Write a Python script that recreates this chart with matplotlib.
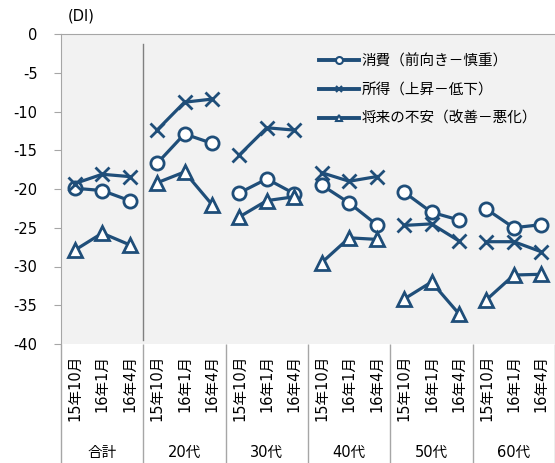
import matplotlib
matplotlib.use('Agg')
import matplotlib.pyplot as plt
from matplotlib.lines import Line2D
import numpy as np

plt.rcParams['font.family'] = ['DejaVu Sans', 'Noto Sans CJK JP']
plt.rcParams['axes.unicode_minus'] = False

# Survey rounds and age groups
rounds = ['15年10月', '16年1月', '16年4月']
groups = ['合計', '20代', '30代', '40代', '50代', '60代']

# DI values per group, one row per group (15/10, 16/1, 16/4)
consumption = [
    [-19.9, -20.2, -21.5],
    [-16.7, -12.9, -14.1],
    [-20.5, -18.7, -20.6],
    [-19.5, -21.8, -24.6],
    [-20.4, -23.0, -24.0],
    [-22.6, -25.0, -24.6],
]
income = [
    [-19.3, -18.1, -18.4],
    [-12.4, -8.8, -8.4],
    [-15.6, -12.1, -12.4],
    [-17.9, -19.0, -18.4],
    [-24.7, -24.5, -26.7],
    [-26.8, -26.8, -28.1],
]
anxiety = [
    [-27.9, -25.7, -27.2],
    [-19.2, -17.8, -22.0],
    [-23.6, -21.5, -21.0],
    [-29.5, -26.3, -26.5],
    [-34.2, -32.0, -36.1],
    [-34.3, -31.1, -31.0],
]
series_labels = ['消費（前向き－慎重）', '所得（上昇－低下）', '将来の不安（改善－悪化）']

navy = '#1f4e79'
grid_gray = '#a6a6a6'

fig = plt.figure(figsize=(5.55, 4.63), dpi=100)
ax = fig.add_axes([61 / 555, 1 - 344 / 463, 1 - 61 / 555, 310 / 463])
ax.set_facecolor('#f2f2f2')

n = len(rounds)
styles = [
    dict(marker='o', markersize=9.5, markerfacecolor='white'),
    dict(marker='x', markersize=9.5),
    dict(marker='^', markersize=10, markerfacecolor='white'),
]
for data, st in zip([consumption, income, anxiety], styles):
    for g, vals in enumerate(data):
        xs = np.arange(n) + g * n
        ax.plot(xs, vals, color=navy, lw=2.3, markeredgewidth=2.0,
                markeredgecolor=navy, zorder=3, **st)

# divider between total and age groups
ax.axvline(2.5, ymin=4 / 310, ymax=300 / 310, color='#808080', lw=1)

ax.set_xlim(-0.5, len(groups) * n - 0.5)
ax.set_ylim(-40, 0)
ax.set_yticks(np.arange(-40, 1, 5))
ax.tick_params(axis='y', length=5, color=grid_gray, pad=12, labelsize=10.5)

ax.set_xticks(np.arange(len(groups) * n))
ax.set_xticklabels(rounds * len(groups), rotation=90, fontsize=10.5)
ax.tick_params(axis='x', which='major', length=0, pad=8)
ax.set_xticks(np.arange(-0.5, len(groups) * n, n), minor=True)
ax.tick_params(axis='x', which='minor', length=86, color=grid_gray, width=1)

for g, name in enumerate(groups):
    ax.text(g * n + 1, -0.350, name, transform=ax.get_xaxis_transform(),
            ha='center', va='center', fontsize=10.5)

for side in ['right', 'bottom']:
    ax.spines[side].set_visible(False)
for side in ['left', 'top']:
    ax.spines[side].set_color(grid_gray)

fig.text(68 / 555, 1 - 16 / 463, '(DI)', ha='left', va='center', fontsize=10.5)

handles = [
    Line2D([], [], color=navy, lw=2.8, marker='o', markersize=5,
           markerfacecolor='white', markeredgewidth=1.5),
    Line2D([], [], color=navy, lw=2.8, marker='x', markersize=5,
           markeredgewidth=1.5),
    Line2D([], [], color=navy, lw=2.8, marker='^', markersize=5,
           markerfacecolor='white', markeredgewidth=1.5),
]
ax.legend(handles, series_labels, loc='upper left',
          bbox_to_anchor=(312 / 555, 1 - 46 / 463), bbox_transform=fig.transFigure,
          frameon=False, fontsize=10.5, handlelength=2.7, handletextpad=0.2,
          labelspacing=0.95, borderpad=0)

fig.savefig('out.png', dpi=100)
